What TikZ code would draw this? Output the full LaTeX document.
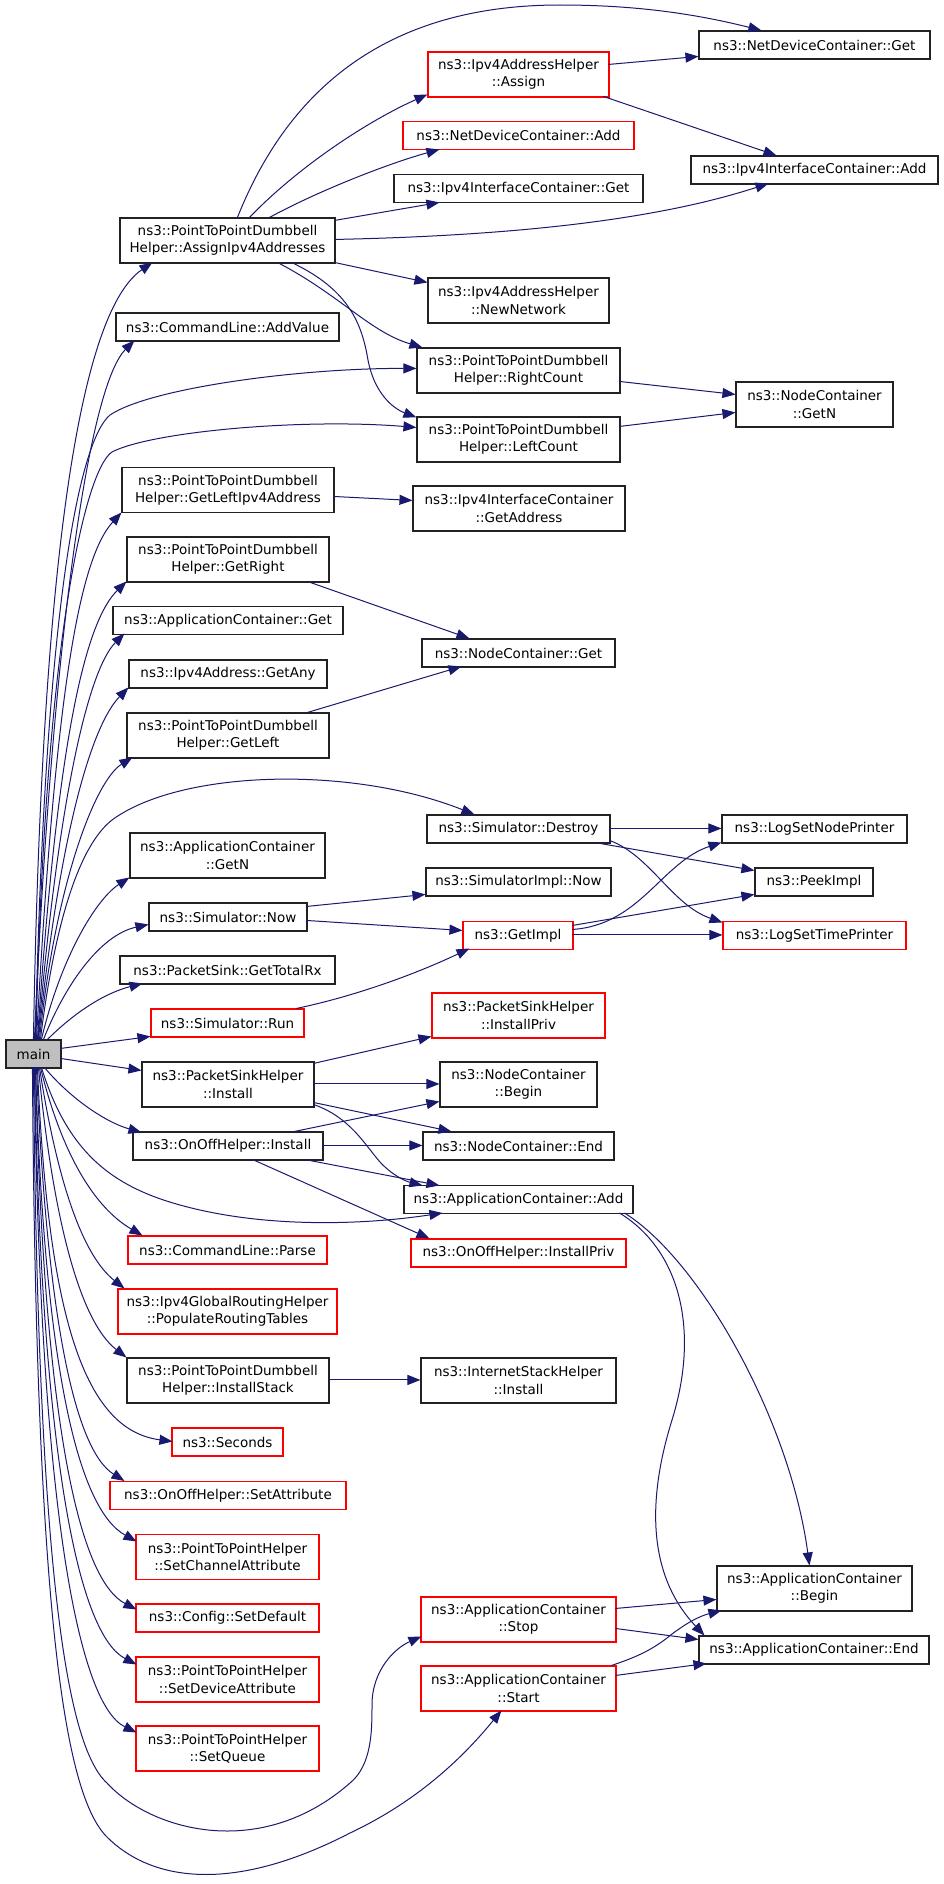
\documentclass[tikz,border=0pt]{standalone}
\usepackage{fontspec}
\newfontfamily\dvs{DejaVu Sans}
\usetikzlibrary{arrows.meta,calc}
\definecolor{edgeblue}{HTML}{191970}
\definecolor{mgray}{HTML}{BFBFBF}
\definecolor{bord}{HTML}{222222}
\tikzset{
  box/.style={draw=bord, line width=1.1pt, fill=white, inner sep=0pt, align=center,
    font={\dvs\fontsize{13.5pt}{17.3pt}\selectfont}, anchor=center},
  rbox/.style={box, draw=red},
  b1/.style={box, minimum height=28pt},
  b2/.style={box, minimum height=45pt},
  r1/.style={rbox, minimum height=28pt},
  r2/.style={rbox, minimum height=45pt},
  edge/.style={draw=edgeblue, line width=1pt, -{Triangle[length=13pt,width=10pt]}},
}
\begin{document}
\begin{tikzpicture}[x=1pt,y=-1pt]
\useasboundingbox[fill=white] (0,0) rectangle (944,1884);

% left column
\node[b1, minimum width=55pt, fill=mgray] (main) at (33.5,1054) {main};
\node[b2, minimum width=215pt] (aip) at (227.5,240.5) {ns3::PointToPointDumbbell\\Helper::AssignIpv4Addresses};
\node[b1, minimum width=223pt] (addv) at (227.5,327) {ns3::CommandLine::AddValue};
\node[b2, minimum width=212pt] (glip) at (228,490) {ns3::PointToPointDumbbell\\Helper::GetLeftIpv4Address};
\node[b2, minimum width=202pt] (gr) at (228,559.5) {ns3::PointToPointDumbbell\\Helper::GetRight};
\node[b1, minimum width=230pt] (acget) at (228,620.5) {ns3::ApplicationContainer::Get};
\node[b1, minimum width=198pt] (gany) at (228,674) {ns3::Ipv4Address::GetAny};
\node[b2, minimum width=202pt] (gl) at (228,735.5) {ns3::PointToPointDumbbell\\Helper::GetLeft};
\node[b2, minimum width=195pt] (acgetn) at (227.5,855.5) {ns3::ApplicationContainer\\::GetN};
\node[b1, minimum width=158pt] (snow) at (228,917) {ns3::Simulator::Now};
\node[b1, minimum width=215pt] (gtrx) at (227.5,970) {ns3::PacketSink::GetTotalRx};
\node[r1, minimum width=153pt] (srun) at (227.5,1023) {ns3::Simulator::Run};
\node[b2, minimum width=172pt] (psi) at (228,1084.5) {ns3::PacketSinkHelper\\::Install};
\node[b1, minimum width=190pt] (ooi) at (228,1146) {ns3::OnOffHelper::Install};
\node[r1, minimum width=199pt] (clp) at (227.5,1250) {ns3::CommandLine::Parse};
\node[r2, minimum width=219pt] (prt) at (227.5,1311.5) {ns3::Ipv4GlobalRoutingHelper\\::PopulateRoutingTables};
\node[b2, minimum width=202pt] (ist) at (228,1380.5) {ns3::PointToPointDumbbell\\Helper::InstallStack};
\node[r1, minimum width=111pt] (sec) at (227.5,1442) {ns3::Seconds};
\node[r1, minimum width=236pt] (oosa) at (228,1495.5) {ns3::OnOffHelper::SetAttribute};
\node[r2, minimum width=183pt] (sca) at (227.5,1557) {ns3::PointToPointHelper\\::SetChannelAttribute};
\node[r1, minimum width=183pt] (csd) at (227.5,1618) {ns3::Config::SetDefault};
\node[r2, minimum width=183pt] (sda) at (227.5,1679.5) {ns3::PointToPointHelper\\::SetDeviceAttribute};
\node[r2, minimum width=183pt] (sq) at (227.5,1748.5) {ns3::PointToPointHelper\\::SetQueue};

% middle column
\node[r2, minimum width=181pt] (assign) at (518.5,74.5) {ns3::Ipv4AddressHelper\\::Assign};
\node[r1, minimum width=231pt] (ndadd) at (518.5,135.5) {ns3::NetDeviceContainer::Add};
\node[b1, minimum width=249pt] (iicget) at (518.5,188.5) {ns3::Ipv4InterfaceContainer::Get};
\node[b2, minimum width=181pt] (newnet) at (518.5,300.5) {ns3::Ipv4AddressHelper\\::NewNetwork};
\node[b2, minimum width=203pt] (rc) at (518.5,370.5) {ns3::PointToPointDumbbell\\Helper::RightCount};
\node[b2, minimum width=203pt] (lc) at (518.5,439.5) {ns3::PointToPointDumbbell\\Helper::LeftCount};
\node[b2, minimum width=212pt] (gaddr) at (519,508.5) {ns3::Ipv4InterfaceContainer\\::GetAddress};
\node[b1, minimum width=193pt] (ncget) at (518.5,653) {ns3::NodeContainer::Get};
\node[b1, minimum width=183pt] (sdes) at (518.5,829) {ns3::Simulator::Destroy};
\node[b1, minimum width=185pt] (sinow) at (518.5,882) {ns3::SimulatorImpl::Now};
\node[r1, minimum width=110pt] (gimpl) at (518,935.5) {ns3::GetImpl};
\node[r2, minimum width=173pt] (psip) at (518.5,1015.5) {ns3::PacketSinkHelper\\::InstallPriv};
\node[b2, minimum width=157pt] (ncb) at (518.5,1084.5) {ns3::NodeContainer\\::Begin};
\node[b1, minimum width=191pt] (nce) at (518.5,1146) {ns3::NodeContainer::End};
\node[b1, minimum width=229pt] (acadd) at (518.5,1199.5) {ns3::ApplicationContainer::Add};
\node[r1, minimum width=215pt] (ooip) at (518.5,1253) {ns3::OnOffHelper::InstallPriv};
\node[b2, minimum width=195pt] (ishi) at (518.5,1380.5) {ns3::InternetStackHelper\\::Install};
\node[r2, minimum width=195pt] (acstop) at (518.5,1619.5) {ns3::ApplicationContainer\\::Stop};
\node[r2, minimum width=195pt] (acstart) at (518.5,1688.5) {ns3::ApplicationContainer\\::Start};

% right column
\node[b1, minimum width=231pt] (ndget) at (814.5,45) {ns3::NetDeviceContainer::Get};
\node[b1, minimum width=247pt] (iicadd) at (814.5,170) {ns3::Ipv4InterfaceContainer::Add};
\node[b2, minimum width=157pt] (ncgetn) at (814.5,404.5) {ns3::NodeContainer\\::GetN};
\node[b1, minimum width=185pt] (lsnp) at (814.5,829) {ns3::LogSetNodePrinter};
\node[b1, minimum width=118pt] (peek) at (814,882) {ns3::PeekImpl};
\node[r1, minimum width=183pt] (lstp) at (814.5,935.5) {ns3::LogSetTimePrinter};
\node[b2, minimum width=195pt] (acbegin) at (814.5,1588.5) {ns3::ApplicationContainer\\::Begin};
\node[b1, minimum width=230pt] (acend) at (814,1650) {ns3::ApplicationContainer::End};

% edges from main (top side)
\draw[edge] ($(main.north west)+(28,0)$) .. controls (40,650) and (68,320) .. ($(aip.north west)+(33,45)$);
\draw[edge] ($(main.north west)+(29,0)$) .. controls (50,680) and (85,390) .. ($(addv.north west)+(19,28)$);
\draw[edge] ($(main.north west)+(30,0)$) .. controls (45,600) and (80,440) .. (110,415) .. controls (150,388) and (300,368) .. ($(rc.north west)+(0,21)$);
\draw[edge] ($(main.north west)+(30.5,0)$) .. controls (45,640) and (85,470) .. (112,452) .. controls (150,432) and (300,418) .. ($(lc.north west)+(0,11)$);
\draw[edge] ($(main.north west)+(31,0)$) .. controls (55,700) and (78,560) .. ($(glip.north west)+(0,45.5)$);
\draw[edge] ($(main.north west)+(32,0)$) .. controls (56,760) and (82,625) .. ($(gr.north west)+(0,45)$);
\draw[edge] ($(main.north west)+(32.5,0)$) .. controls (58,800) and (88,670) .. ($(acget.north west)+(12,27.5)$);
\draw[edge] ($(main.north west)+(33,0)$) .. controls (60,830) and (92,725) .. ($(gany.north west)+(0,28)$);
\draw[edge] ($(main.north west)+(34,0)$) .. controls (56,880) and (96,780) .. ($(gl.north west)+(6,45)$);
\draw[edge] ($(main.north west)+(35,0)$) .. controls (55,920) and (80,845) .. (112,820) .. controls (180,770) and (350,765) .. ($(sdes.north west)+(48,0)$);
\draw[edge] ($(main.north west)+(36,0)$) .. controls (60,960) and (95,900) .. ($(acgetn.north west)+(0,45)$);
\draw[edge] ($(main.north west)+(38,0)$) .. controls (65,985) and (100,935) .. ($(snow.north west)+(0,22)$);
\draw[edge] ($(main.north west)+(42,0)$) .. controls (75,1012) and (105,993) .. ($(gtrx.north west)+(23,28)$);
\draw[edge] ($(main.north west)+(55,9)$) -- ($(srun.north west)+(0,28)$);
\draw[edge] ($(main.north west)+(55,19)$) -- ($(psi.north west)+(0,9)$);

% edges from main (bottom side)
\draw[edge] ($(main.north west)+(39,28)$) .. controls (70,1098) and (105,1122) .. ($(ooi.north west)+(9,1)$);
\draw[edge] ($(main.north west)+(36,28)$) .. controls (70,1160) and (120,1192) .. (200,1210) .. controls (280,1228) and (370,1224) .. ($(acadd.north west)+(39,28)$);
\draw[edge] ($(main.north west)+(35,28)$) .. controls (62,1155) and (95,1208) .. ($(clp.north west)+(15,0)$);
\draw[edge] ($(main.north west)+(34,28)$) .. controls (57,1180) and (82,1255) .. ($(prt.north west)+(7,0)$);
\draw[edge] ($(main.north west)+(33,28)$) .. controls (52,1210) and (78,1320) .. ($(ist.north west)+(0,0)$);
\draw[edge] ($(main.north west)+(32,28)$) .. controls (48,1320) and (85,1430) .. ($(sec.north west)+(1,14)$);
\draw[edge] ($(main.north west)+(31,28)$) .. controls (47,1320) and (75,1450) .. ($(oosa.north west)+(15,0)$);
\draw[edge] ($(main.north west)+(30,28)$) .. controls (45,1380) and (80,1510) .. ($(sca.north west)+(1,7.5)$);
\draw[edge] ($(main.north west)+(30,28)$) .. controls (44,1430) and (80,1580) .. ($(csd.north west)+(1,6)$);
\draw[edge] ($(main.north west)+(29,28)$) .. controls (42,1470) and (80,1635) .. ($(sda.north west)+(1,8)$);
\draw[edge] ($(main.north west)+(29,28)$) .. controls (40,1520) and (80,1705) .. ($(sq.north west)+(1,7)$);
\draw[edge] ($(main.north west)+(28,28)$) .. controls (38,1560) and (65,1745) .. (107,1783) .. controls (150,1830) and (260,1862) .. (350,1783) .. controls (372,1765) and (372,1730) .. (372,1705) .. controls (372,1670) and (395,1648) .. ($(acstop.north west)+(1,40)$);
\draw[edge] ($(main.north west)+(27,28)$) .. controls (36,1620) and (65,1795) .. (107,1837) .. controls (150,1880) and (230,1895) .. (350,1833) .. controls (420,1800) and (465,1755) .. ($(acstart.north west)+(81,45)$);

% edges from AssignIpv4Addresses
\draw[edge] ($(aip.north west)+(118,0)$) .. controls (300,60) and (420,5) .. (560,5) .. controls (640,5) and (700,15) .. ($(ndget.north west)+(63,0)$);
\draw[edge] ($(aip.north west)+(130,0)$) .. controls (300,165) and (370,120) .. ($(assign.north west)+(0,43)$);
\draw[edge] ($(aip.north west)+(150,0)$) .. controls (320,190) and (390,163) .. ($(ndadd.north west)+(37,28.5)$);
\draw[edge] ($(aip.north west)+(215,3)$) -- ($(iicget.north west)+(46,28.5)$);
\draw[edge] ($(aip.north west)+(215,22)$) .. controls (500,236) and (650,222) .. ($(iicadd.north west)+(78,28)$);
\draw[edge] ($(aip.north west)+(215,45)$) -- ($(newnet.north west)+(0,5)$);
\draw[edge] ($(aip.north west)+(158,45)$) .. controls (340,295) and (370,332) .. ($(rc.north west)+(6,0)$);
\draw[edge] ($(aip.north west)+(172,45)$) .. controls (350,290) and (362,325) .. (368,360) .. controls (374,392) and (392,408) .. ($(lc.north west)+(0,1)$);

% other edges
\draw[edge] ($(assign.north west)+(181,13)$) -- ($(ndget.north west)+(0,26)$);
\draw[edge] ($(assign.north west)+(176,45)$) -- ($(iicadd.north west)+(86,0)$);
\draw[edge] ($(rc.north west)+(203,34)$) -- ($(ncgetn.north west)+(0,13)$);
\draw[edge] ($(lc.north west)+(203,10)$) -- ($(ncgetn.north west)+(0,31)$);
\draw[edge] ($(glip.north west)+(212,29.5)$) -- ($(gaddr.north west)+(0,15)$);
\draw[edge] ($(gr.north west)+(181,45)$) -- ($(ncget.north west)+(48,0)$);
\draw[edge] ($(gl.north west)+(181,0)$) -- ($(ncget.north west)+(40,28)$);
\draw[edge] ($(sdes.north west)+(183,14)$) -- ($(lsnp.north west)+(0,14)$);
\draw[edge] ($(sdes.north west)+(168,28)$) -- ($(peek.north west)+(0,3)$);
\draw[edge] ($(sdes.north west)+(183,26)$) .. controls (650,855) and (672,905) .. ($(lstp.north west)+(0,1.5)$);
\draw[edge] ($(gimpl.north west)+(110,8.5)$) .. controls (640,925) and (662,862) .. ($(lsnp.north west)+(0,28)$);
\draw[edge] ($(gimpl.north west)+(110,4.5)$) -- ($(peek.north west)+(0,27)$);
\draw[edge] ($(gimpl.north west)+(110,14)$) -- ($(lstp.north west)+(0,14)$);
\draw[edge] ($(snow.north west)+(158,4)$) -- ($(sinow.north west)+(0,27)$);
\draw[edge] ($(snow.north west)+(158,18)$) -- ($(gimpl.north west)+(0,9.5)$);
\draw[edge] ($(srun.north west)+(146,0)$) .. controls (360,995) and (420,972) .. ($(gimpl.north west)+(7,27.5)$);
\draw[edge] ($(psi.north west)+(172,2)$) -- ($(psip.north west)+(0,44)$);
\draw[edge] ($(psi.north west)+(172,22.5)$) -- ($(ncb.north west)+(0,22.5)$);
\draw[edge] ($(psi.north west)+(172,41)$) -- ($(nce.north west)+(29,0)$);
\draw[edge] ($(psi.north west)+(172,43)$) .. controls (350,1117) and (365,1145) .. (380,1162) .. controls (392,1175) and (405,1181) .. ($(acadd.north west)+(19,0.5)$);
\draw[edge] ($(ooi.north west)+(162,0)$) -- ($(ncb.north west)+(0,40)$);
\draw[edge] ($(ooi.north west)+(190,14)$) -- ($(nce.north west)+(0,14)$);
\draw[edge] ($(ooi.north west)+(172,28)$) -- ($(acadd.north west)+(36,0.5)$);
\draw[edge] ($(ooi.north west)+(120,28)$) -- ($(ooip.north west)+(19,0)$);
\draw[edge] ($(ist.north west)+(202,22.5)$) -- ($(ishi.north west)+(0,22.5)$);
\draw[edge] ($(acadd.north west)+(221,28)$) .. controls (700,1260) and (790,1420) .. ($(acbegin.north west)+(93,0)$);
\draw[edge] ($(acadd.north west)+(216,28)$) .. controls (680,1250) and (700,1330) .. (672,1420) .. controls (644,1510) and (652,1580) .. ($(acend.north west)+(6,0)$);
\draw[edge] ($(acstop.north west)+(195,12)$) -- ($(acbegin.north west)+(0,34)$);
\draw[edge] ($(acstop.north west)+(195,32)$) -- ($(acend.north west)+(0,4)$);
\draw[edge] ($(acstart.north west)+(191,0)$) .. controls (640,1656) and (655,1648) .. (672,1634) .. controls (688,1622) and (700,1616) .. ($(acbegin.north west)+(5,45)$);
\draw[edge] ($(acstart.north west)+(195,10)$) -- ($(acend.north west)+(8,28)$);
\end{tikzpicture}
\end{document}
